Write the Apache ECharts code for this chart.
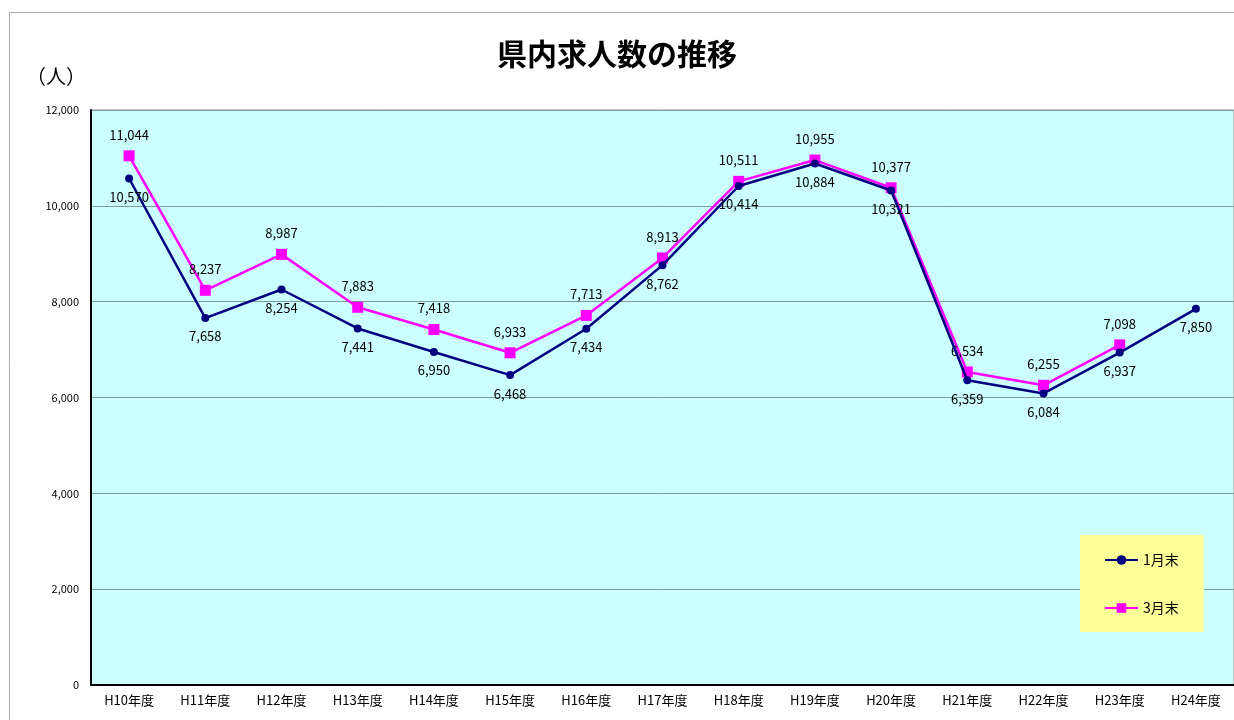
<!DOCTYPE html>
<html>
<head>
<meta charset="utf-8">
<script src="https://cdn.jsdelivr.net/npm/echarts@6/dist/echarts.min.js"></script>
<style>
  html, body { margin: 0; padding: 0; background: #fff; }
  #main { width: 1234px; height: 720px; }
</style>
</head>
<body>
<div id="main"></div>
<script>
// 年度
const categories = ['H10年度', 'H11年度', 'H12年度', 'H13年度', 'H14年度', 'H15年度', 'H16年度', 'H17年度',
  'H18年度', 'H19年度', 'H20年度', 'H21年度', 'H22年度', 'H23年度', 'H24年度']
// 1月末
const janValues = [10570, 7658, 8254, 7441, 6950, 6468, 7434, 8762, 10414, 10884, 10321, 6359, 6084, 6937, 7850]
// 3月末（H24はなし）
const marValues = [11044, 8237, 8987, 7883, 7418, 6933, 7713, 8913, 10511, 10955, 10377, 6534, 6255, 7098, null]

const font = '"Noto Sans CJK JP", sans-serif'
const fmt = p => p.value == null ? '' : p.value.toLocaleString('en-US')

const chart = echarts.init(document.getElementById('main'))
const option = {
  backgroundColor: '#fff',
  textStyle: { fontFamily: font },
  title: {
    text: '県内求人数の推移',
    left: 'center',
    top: 34,
    textStyle: { fontSize: 30, fontWeight: 'bold', color: '#000', fontFamily: font }
  },
  graphic: [
    {
      type: 'rect',
      z: -10,
      shape: { x: 9.5, y: 12.5, width: 1400, height: 900 },
      style: { fill: 'none', stroke: '#aaa', lineWidth: 1 }
    },
    {
      type: 'text',
      left: 26,
      top: 66,
      style: { text: '（人）', fontSize: 20, fill: '#000', fontFamily: font }
    }
  ],
  legend: {
    orient: 'vertical',
    left: 1080,
    top: 535,
    padding: [18, 25, 17, 24],
    itemGap: 34,
    itemWidth: 33,
    itemHeight: 12,
    backgroundColor: '#FFFF99',
    textStyle: { fontSize: 14, color: '#000', fontFamily: font },
    data: ['1月末', '3月末']
  },
  grid: {
    left: 91,
    top: 110,
    right: -2,
    bottom: 35,
    show: true,
    backgroundColor: '#CCFFFF',
    borderColor: '#999',
    borderWidth: 1
  },
  xAxis: {
    type: 'category',
    data: categories,
    boundaryGap: true,
    axisLine: { lineStyle: { color: '#000', width: 2 } },
    axisTick: { inside: true, length: 4, lineStyle: { color: '#888' } },
    axisLabel: { fontSize: 13, color: '#000', margin: 9, fontFamily: font }
  },
  yAxis: {
    type: 'value',
    min: 0,
    max: 12000,
    interval: 2000,
    axisLine: { show: true, lineStyle: { color: '#000', width: 2 } },
    axisTick: { show: false },
    splitLine: { lineStyle: { color: '#7f9a9a', width: 1 } },
    axisLabel: {
      fontSize: 11,
      color: '#000',
      margin: 12,
      fontFamily: font,
      formatter: v => v.toLocaleString('en-US')
    }
  },
  series: [
    {
      name: '1月末',
      type: 'line',
      data: janValues,
      color: '#000080',
      symbol: 'circle',
      symbolSize: 8,
      lineStyle: { width: 2.5, color: '#000080' },
      itemStyle: { color: '#000080' },
      label: {
        show: true,
        position: 'bottom',
        distance: 8,
        fontSize: 13,
        color: '#000',
        fontFamily: font,
        formatter: fmt
      },
      z: 3
    },
    {
      name: '3月末',
      type: 'line',
      data: marValues,
      color: '#FF00FF',
      symbol: 'rect',
      symbolSize: 11,
      lineStyle: { width: 2.5, color: '#FF00FF' },
      itemStyle: { color: '#FF00FF' },
      label: {
        show: true,
        position: 'top',
        distance: 9,
        fontSize: 13,
        color: '#000',
        fontFamily: font,
        formatter: fmt
      },
      z: 2
    }
  ]
}
chart.setOption(option)
</script>
</body>
</html>
